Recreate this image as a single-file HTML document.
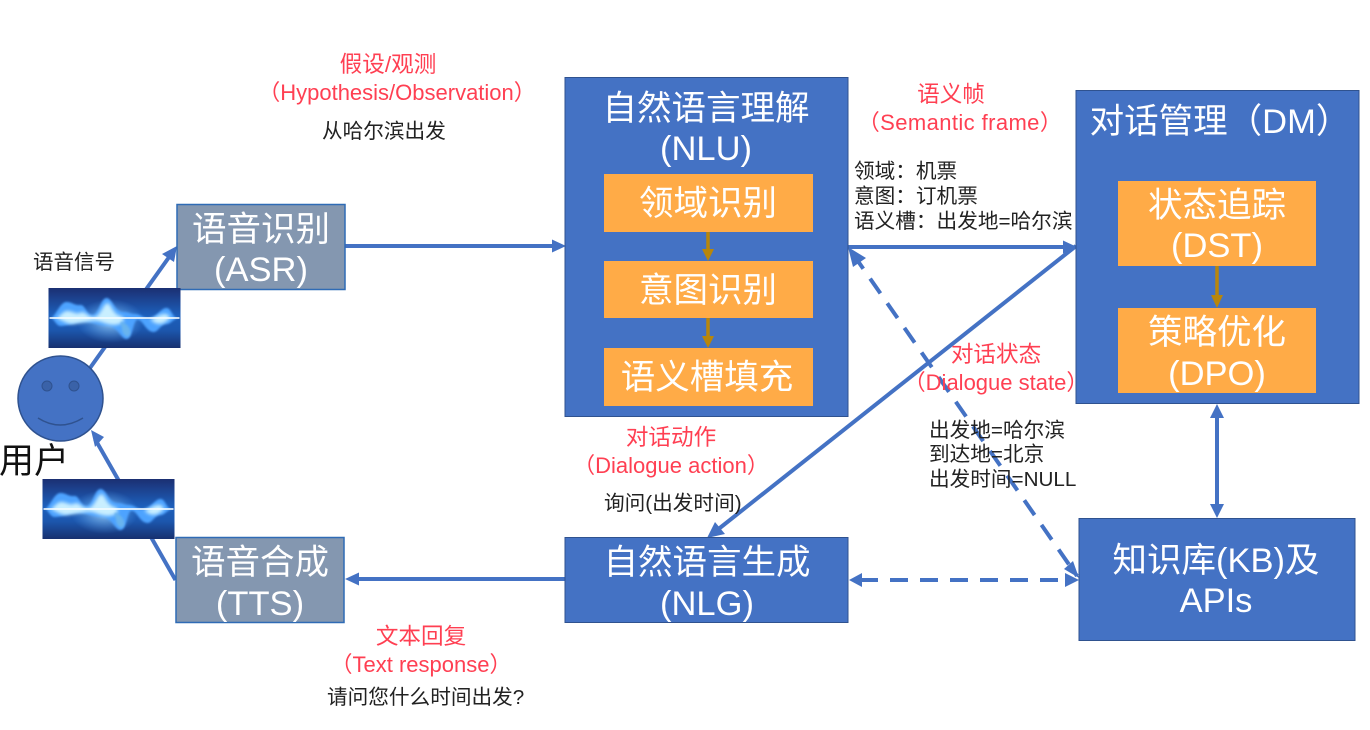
<!DOCTYPE html>
<html><head><meta charset="utf-8"><style>
html,body{margin:0;padding:0;background:#fff;width:1370px;height:730px;overflow:hidden}
svg{display:block;filter:blur(.35px)}
text{font-family:"Liberation Sans","Noto Sans CJK SC",sans-serif}
.w{fill:#fff;font-size:34.5px;text-anchor:middle}
.r{fill:#ff3f52;font-size:22px;text-anchor:middle}
.c{font-size:22.6px}
.k{fill:#222;font-size:20.65px}
.o{fill:#fff;font-size:34.5px;text-anchor:middle}
</style></head><body>
<svg width="1370" height="730" viewBox="0 0 1370 730" xmlns="http://www.w3.org/2000/svg">
<defs>
<linearGradient id="bg" x1="0" y1="0" x2="0" y2="1"><stop offset="0" stop-color="#1b2f72"/><stop offset=".45" stop-color="#1d5fbb"/><stop offset=".7" stop-color="#1c57ae"/><stop offset="1" stop-color="#17306f"/></linearGradient>
<radialGradient id="gl" cx=".5" cy=".5" r=".5"><stop offset="0" stop-color="#bfeaff" stop-opacity=".8"/><stop offset="1" stop-color="#5fb0ff" stop-opacity="0"/></radialGradient>
<filter id="b1" x="-10%" y="-30%" width="120%" height="160%"><feGaussianBlur stdDeviation="1.1"/></filter>
<filter id="b2" x="-10%" y="-30%" width="120%" height="160%"><feGaussianBlur stdDeviation="1.8"/></filter>
<clipPath id="wc"><rect width="132" height="60"/></clipPath>
<g id="wave">
<g clip-path="url(#wc)">
<rect width="132" height="60" fill="url(#bg)"/>
<ellipse cx="62" cy="33" rx="34" ry="22" fill="url(#gl)"/>
<path d="M3 30 C8 26 12 14 18 14 C24 14 26 18 32 17 C37 17 38 27 44 27 C50 27 52 10 58 10 C64 10 66 24 75 24 C80 24 82 26 86 26 C92 26 94 30 100 30 C108 30 112 20 118 20 C123 20 124 30 129 30 C124 32 122 36 118 36 C112 36 110 44 105 44 C97 44 94 30 88 32 C84 36 84 51 78 51 C72 51 70 38 58 38 C50 38 42 33 32 34 C26 35 18 38 12 38 C8 38 6 32 3 30 Z" fill="#4da3ff" filter="url(#b1)"/>
<path d="M8 30 C12 28 15 22 20 23 C26 24 28 27 33 24 C38 24 40 30 46 29 C52 28 55 15 59 15 C63 16 64 26 72 28 C78 30 76 36 66 37 C56 37 52 32 44 33 C36 34 32 35 24 36 C18 36 13 32 8 30 Z M102 31 C108 30 112 25 118 26 C122 28 122 31 118 33 C114 37 106 37 102 31 Z" fill="#c9efff" filter="url(#b2)"/>
<path d="M72 34 C76 34 81 38 82 44 C81 50 77 50 74 44 Z" fill="#69b4ee" filter="url(#b1)"/>
<rect x="1" y="29.200" width="130" height="1.600" fill="#f5fcff"/>
</g>
</g>
</defs>

<!-- Connectors -->
<g stroke="#4472c4" stroke-width="4" fill="none">
<line x1="90" y1="368" x2="172" y2="253"/>
<line x1="175.500" y1="580" x2="95" y2="439"/>
<line x1="345" y1="246" x2="556" y2="246"/>
<line x1="848" y1="247" x2="1068" y2="247"/>
<line x1="565" y1="579" x2="354" y2="579"/>
<line x1="1076" y1="246" x2="716" y2="531"/>
<line x1="1217" y1="412" x2="1217" y2="510"/>
</g>
<g stroke="#4472c4" stroke-width="4" fill="none" stroke-dasharray="18 12">
<line x1="853" y1="254" x2="1077" y2="576"/>
<line x1="860" y1="580" x2="1070" y2="580"/>
</g>
<g fill="#4472c4">
<path d="M177 246 L174 262 L162 254 Z"/>
<path d="M91 430 L104 437 L95 447 Z"/>
<path d="M566 246 L552 239.500 L552 252.500 Z"/>
<path d="M1077 247 L1063 240.500 L1063 253.500 Z"/>
<path d="M345 579 L359 572.500 L359 585.500 Z"/>
<path d="M848 247 L866 258 L853 267 Z"/>
<path d="M1079 578 L1064 569 L1073 561 Z"/>
<path d="M1079 580 L1065 573 L1065 587 Z"/>
<path d="M849 580 L862 573 L862 587 Z"/>
<path d="M707 538 L715 522 L725 534 Z"/>
<path d="M1217 404 L1210 418 L1224 418 Z"/>
<path d="M1217 518 L1210 504 L1224 504 Z"/>
</g>

<!-- Gray boxes -->
<rect x="177" y="204.500" width="168" height="85" fill="#8497b0" stroke="#2f6bb5" stroke-width="1.500"/>
<text class="w" x="261" y="241">语音识别</text>
<text class="w" x="261" y="281">(ASR)</text>
<rect x="176" y="537.500" width="168" height="85" fill="#8497b0" stroke="#2f6bb5" stroke-width="1.500"/>
<text class="w" x="260" y="574">语音合成</text>
<text class="w" x="260" y="615">(TTS)</text>

<!-- Waves -->
<use href="#wave" x="48.500" y="288"/>
<use href="#wave" x="42.500" y="479"/>

<!-- Smiley -->
<circle cx="60.500" cy="398.500" r="42.500" fill="#4472c4" stroke="#2f528f" stroke-width="1.500"/>
<circle cx="47" cy="386" r="5" fill="#3a62a8" stroke="#2f528f"/>
<circle cx="74" cy="386" r="5" fill="#3a62a8" stroke="#2f528f"/>
<path d="M38 418 Q60 432 83 418" fill="none" stroke="#2f528f" stroke-width="1.500"/>
<text x="-1" y="473" font-size="35" fill="#111">用户</text>
<text x="33" y="269" font-size="20.500" fill="#222">语音信号</text>

<!-- NLU -->
<rect x="565" y="77.500" width="283" height="339" fill="#4472c4" stroke="#2f528f" stroke-width="1"/>
<text class="w" x="706" y="120">自然语言理解</text>
<text class="w" x="706" y="160">(NLU)</text>
<rect x="604" y="174" width="209" height="58" fill="#ffab47"/>
<text class="o" x="708" y="215">领域识别</text>
<rect x="604" y="261" width="209" height="57" fill="#ffab47"/>
<text class="o" x="708" y="302">意图识别</text>
<rect x="604" y="348" width="209" height="58" fill="#ffab47"/>
<text class="o" x="707" y="389">语义槽填充</text>
<g stroke="#b8860b" stroke-width="3.500"><line x1="708" y1="232" x2="708" y2="252"/><line x1="708" y1="318" x2="708" y2="339"/></g>
<path d="M708 261 L702 249 L714 249 Z M708 348 L702 336 L714 336 Z" fill="#b8860b"/>

<!-- DM -->
<rect x="1076" y="90.500" width="283" height="313" fill="#4472c4" stroke="#2f528f" stroke-width="1"/>
<text class="w" x="1220" y="133">对话管理（DM）</text>
<rect x="1118" y="181" width="198" height="85" fill="#ffab47"/>
<text class="o" x="1217" y="217">状态追踪</text>
<text class="o" x="1217" y="257">(DST)</text>
<rect x="1118" y="308" width="198" height="85" fill="#ffab47"/>
<text class="o" x="1217" y="344">策略优化</text>
<text class="o" x="1217" y="385">(DPO)</text>
<line x1="1217" y1="266" x2="1217" y2="298" stroke="#b8860b" stroke-width="3.500"/>
<path d="M1217 308 L1211 295 L1223 295 Z" fill="#b8860b"/>

<!-- NLG -->
<rect x="565" y="537.500" width="283" height="85" fill="#4472c4" stroke="#2f528f" stroke-width="1"/>
<text class="w" x="707" y="574">自然语言生成</text>
<text class="w" x="707" y="615">(NLG)</text>

<!-- KB -->
<rect x="1079" y="518.500" width="276" height="122" fill="#4472c4" stroke="#2f528f" stroke-width="1"/>
<text class="w" x="1216" y="572">知识库(KB)及</text>
<text class="w" x="1216" y="612">APIs</text>

<!-- Labels -->
<text class="r c" x="388" y="72">假设/观测</text>
<text class="r" x="397" y="100">（Hypothesis/Observation）</text>
<text class="k" x="322" y="138">从哈尔滨出发</text>

<text class="r c" x="951" y="102">语义帧</text>
<text class="r" x="960" y="130" letter-spacing=".4">（Semantic frame）</text>
<text class="k" x="854" y="178">领域：机票</text>
<text class="k" x="854" y="203">意图：订机票</text>
<text class="k" x="854" y="228">语义槽：出发地=哈尔滨</text>

<text class="r c" x="996" y="362">对话状态</text>
<text class="r" x="996" y="390">（Dialogue state）</text>
<text class="k" x="929" y="437">出发地=哈尔滨</text>
<text class="k" x="929" y="461">到达地=北京</text>
<text class="k" x="929" y="486">出发时间=NULL</text>

<text class="r c" x="671" y="445">对话动作</text>
<text class="r" x="671" y="473">（Dialogue action）</text>
<text class="k" x="604" y="510">询问(出发时间)</text>

<text class="r c" x="421" y="644">文本回复</text>
<text class="r" x="421" y="672">（Text response）</text>
<text class="k" x="327" y="704">请问您什么时间出发?</text>
</svg>
</body></html>
